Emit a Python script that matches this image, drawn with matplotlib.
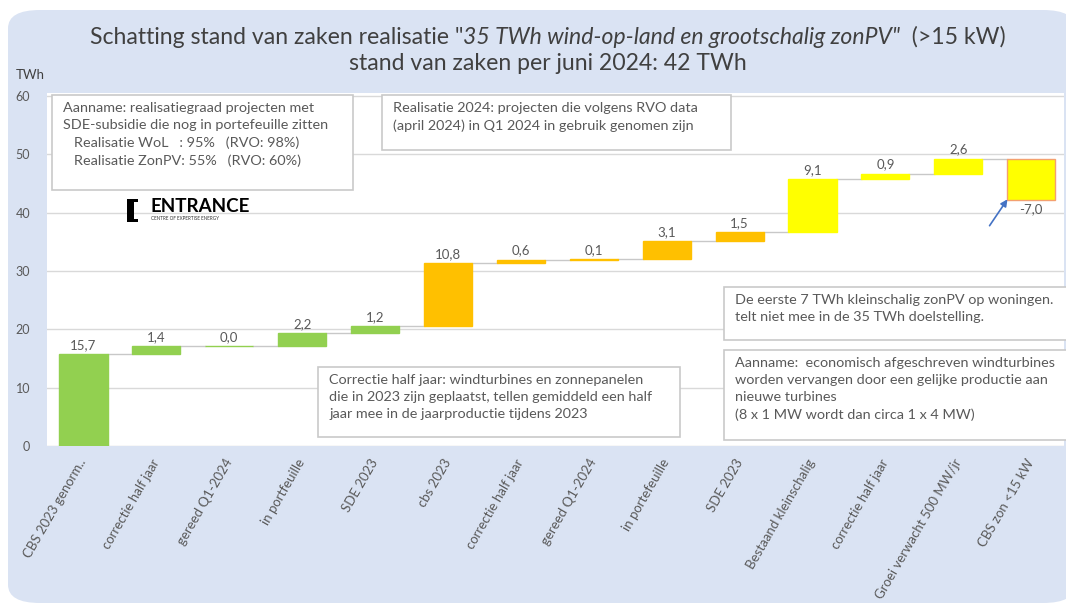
import numpy as np
import matplotlib.pyplot as plt
from matplotlib.patches import FancyBboxPatch, Rectangle

plt.rcParams['font.family'] = ['Lato', 'DejaVu Sans']

# data
categories = ['CBS 2023 genorm..', 'correctie half jaar', 'gereed Q1-2024', 'in portfeuille',
              'SDE 2023', 'cbs 2023', 'correctie half jaar', 'gereed Q1-2024', 'in portefeuille',
              'SDE 2023', 'Bestaand kleinschalig', 'correctie half jaar',
              'Groei verwacht 500 MW/jr', 'CBS zon <15 kW']
deltas = [15.7, 1.4, 0.0, 2.2, 1.2, 10.8, 0.6, 0.1, 3.1, 1.5, 9.1, 0.9, 2.6, -7.0]
groups = ['wind'] * 5 + ['zon'] * 5 + ['klein'] * 4
yticks = [0, 10, 20, 30, 40, 50, 60]

group_colors = {'wind': '#92d050', 'zon': '#ffc000', 'klein': '#ffff00'}
W, H = 1066, 610
gray = '#595959'

def fx(px):
    return px / W

def fy(py):
    return 1 - py / H

fig = plt.figure(figsize=(W / 100, H / 100), dpi=100)
fig.patch.set_facecolor('white')

# light blue panel behind everything
panel = FancyBboxPatch((fx(8), fy(603)), fx(1075) - fx(8), fy(10) - fy(603),
                       boxstyle='round,pad=0,rounding_size=0.03',
                       transform=fig.transFigure, facecolor='#dae3f3',
                       edgecolor='none', zorder=-5)
fig.patches.append(panel)

ax = fig.add_axes([fx(47), fy(446), fx(1064) - fx(47), fy(93) - fy(446)])
ax.set_zorder(1)
ax.set_facecolor('white')

x = np.arange(len(deltas))
ends = np.cumsum(deltas)
starts = ends - np.array(deltas)
colors = [group_colors[g] for g in groups]
edges = list(colors)
edges[-1] = '#f4a070'
width = 0.66

ax.bar(x, deltas, bottom=starts, width=width, color=colors, edgecolor=edges,
       linewidth=1.0, zorder=3)

# connector lines
for i in range(len(x) - 1):
    ax.plot([x[i] + width / 2, x[i + 1] - width / 2], [ends[i], ends[i]],
            color='#c8c8c8', lw=1, zorder=2)

# value labels
for i, d in enumerate(deltas):
    lab = f'{d:.1f}'.replace('.', ',')
    if d >= 0:
        ax.text(x[i], ends[i] + 0.6, lab, ha='center', va='bottom', fontsize=9.5, color=gray, zorder=4)
    else:
        ax.text(x[i], ends[i] - 0.6, lab, ha='center', va='top', fontsize=9.5, color=gray, zorder=4)

ax.set_ylim(0, 60.5)
ax.set_xlim(-0.5, 13.45)
ax.set_yticks(yticks)
ax.set_yticklabels([str(t) for t in yticks], fontsize=9, color=gray)
ax.grid(axis='y', color='#d9d9d9', lw=1, zorder=0)
ax.set_axisbelow(True)
for s in ax.spines.values():
    s.set_visible(False)
ax.tick_params(axis='y', length=0, pad=12)
ax.tick_params(axis='x', length=0, pad=10)
ax.set_xticks(x)
ax.set_xticklabels(categories, rotation=60, ha='right', va='center',
                   rotation_mode='anchor', fontsize=9.5, color=gray)

fig.text(fx(30), fy(75), 'TWh', ha='center', va='center', fontsize=9.5, color='#404040')

# title with italic middle part
fig.canvas.draw()
r = fig.canvas.get_renderer()
parts = [('Schatting stand van zaken realisatie "', 'normal'),
         ('35 TWh wind-op-land en grootschalig zonPV"', 'italic'),
         ('  (>15 kW)', 'normal')]
tx = []
for s, st in parts:
    t = fig.text(0, fy(37), s, fontsize=16.6, style=st, color='#404040', va='center', ha='left')
    tx.append(t)
widths = [t.get_window_extent(r).width for t in tx]
cur = 548 - sum(widths) / 2
for t, w in zip(tx, widths):
    t.set_x(fx(cur))
    cur += w
fig.text(fx(548), fy(63), 'stand van zaken per juni 2024: 42 TWh', ha='center', va='center',
         fontsize=16.6, color='#404040')

# annotation boxes
def note(x0, y0, x1, y1, txt):
    rect = Rectangle((fx(x0), fy(y1)), fx(x1) - fx(x0), fy(y0) - fy(y1),
                     transform=fig.transFigure, facecolor='white', edgecolor='#c9c9c9',
                     lw=1.2, zorder=5)
    fig.patches.append(rect)
    fig.text(fx(x0 + 11), fy(y0 + 7), txt, ha='left', va='top', fontsize=10.4,
             color=gray, linespacing=1.5, zorder=6)

note(52, 95, 353, 190, 'Aanname: realisatiegraad projecten met\nSDE-subsidie die nog in portefeuille zitten\n'
     '   Realisatie WoL   : 95%   (RVO: 98%)\n   Realisatie ZonPV: 55%   (RVO: 60%)')
note(382, 95, 731, 150, 'Realisatie 2024: projecten die volgens RVO data\n(april 2024) in Q1 2024 in gebruik genomen zijn')
note(318, 367, 680, 437, 'Correctie half jaar: windturbines en zonnepanelen\ndie in 2023 zijn geplaatst, tellen gemiddeld een half\n'
     'jaar mee in de jaarproductie tijdens 2023')
note(724, 287, 1068, 340, 'De eerste 7 TWh kleinschalig zonPV op woningen.\ntelt niet mee in de 35 TWh doelstelling.')
note(724, 350, 1068, 440, 'Aanname:  economisch afgeschreven windturbines\nworden vervangen door een gelijke productie aan\n'
     'nieuwe turbines\n(8 x 1 MW wordt dan circa 1 x 4 MW)')

# ENTRANCE logo
fig.patches.append(Rectangle((fx(127), fy(222)), fx(7), fy(199) - fy(222), transform=fig.transFigure,
                             facecolor='black', edgecolor='none', zorder=6))
fig.patches.append(Rectangle((fx(127), fy(202)), fx(11), fy(199) - fy(202), transform=fig.transFigure,
                             facecolor='black', edgecolor='none', zorder=6))
fig.patches.append(Rectangle((fx(127), fy(222)), fx(11), fy(219) - fy(222), transform=fig.transFigure,
                             facecolor='black', edgecolor='none', zorder=6))
fig.text(fx(151), fy(207), 'ENTRANCE', ha='left', va='center', fontsize=13.5, fontweight='bold',
         color='black', zorder=6)
fig.text(fx(151), fy(219), 'CENTRE OF EXPERTISE ENERGY', ha='left', va='center', fontsize=3.3,
         color='#333333', zorder=6)

# blue arrow to last bar
fig.add_artist(plt.matplotlib.patches.FancyArrowPatch(
    (fx(988), fy(228)), (fx(1009), fy(197)), transform=fig.transFigure,
    arrowstyle='-|>', color='#4472c4', lw=1.2, mutation_scale=10, zorder=7))

fig.savefig('out.png', dpi=100, facecolor=fig.get_facecolor())
